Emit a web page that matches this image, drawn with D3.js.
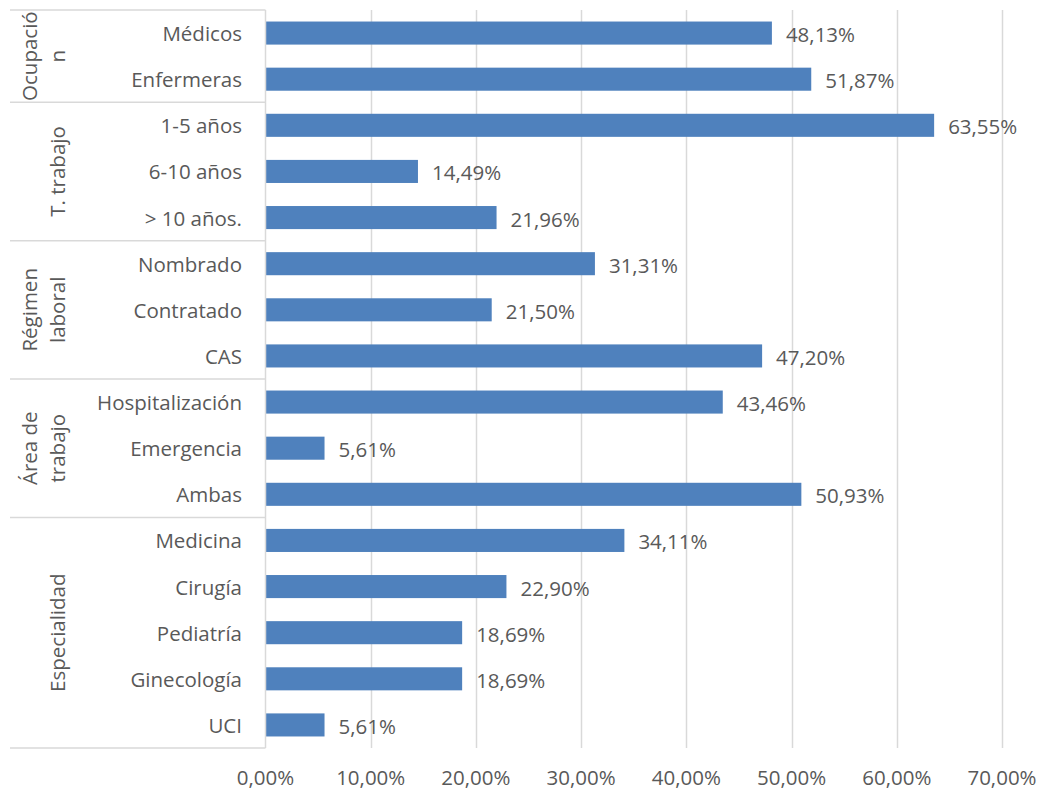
<!DOCTYPE html>
<html>
<head>
<meta charset="utf-8">
<script src="https://cdn.jsdelivr.net/npm/d3@7"></script>
<style>
  html, body { margin: 0; padding: 0; background: #fff; }
  text { font-family: "Open Sans", "Noto Sans", sans-serif; fill: #595959; }
</style>
</head>
<body>
<svg id="chart" width="1043" height="791"></svg>
<script>
// groups of the multi-level category axis (label lines, number of items)
var groupNames = [["Ocupació", "n"], ["T. trabajo"], ["Régimen", "laboral"], ["Área de", "trabajo"], ["Especialidad"]];
var groupSizes = [2, 3, 3, 3, 5];
var categories = ["Médicos", "Enfermeras", "1-5 años", "6-10 años", "> 10 años.", "Nombrado", "Contratado", "CAS",
    "Hospitalización", "Emergencia", "Ambas", "Medicina", "Cirugía", "Pediatría", "Ginecología", "UCI"];
var values = [48.13, 51.87, 63.55, 14.49, 21.96, 31.31, 21.50, 47.20, 43.46, 5.61, 50.93, 34.11, 22.90, 18.69, 18.69, 5.61];
var xTicks = [0, 10, 20, 30, 40, 50, 60, 70];

var svg = d3.select("#chart");
var plot = { left: 265.5, right: 1002, top: 10, bottom: 748 };
var fontSize = 20.5;

var x = d3.scaleLinear().domain([0, 70]).range([plot.left, plot.right]);
var y = d3.scaleBand().domain(d3.range(categories.length)).range([plot.top, plot.bottom]).paddingInner(0.5).paddingOuter(0.25);
var fmt = function(v) { return v.toFixed(2).replace(".", ",") + "%"; };

// vertical gridlines
svg.append("g").selectAll("line")
    .data(xTicks.slice(1))
    .join("line")
    .attr("x1", function(d) { return Math.round(x(d)) + 0.5; })
    .attr("x2", function(d) { return Math.round(x(d)) + 0.5; })
    .attr("y1", plot.top).attr("y2", plot.bottom)
    .attr("stroke", "#d9d9d9").attr("stroke-width", 1.5);

// x tick labels
svg.append("g").selectAll("text")
    .data(xTicks)
    .join("text")
    .attr("x", function(d) { return x(d); })
    .attr("y", 777)
    .attr("text-anchor", "middle")
    .attr("dominant-baseline", "central")
    .style("font-size", fontSize + "px")
    .text(function(d) { return fmt(d); });

// bars
svg.append("g").selectAll("rect")
    .data(values)
    .join("rect")
    .attr("x", x(0))
    .attr("y", function(d, i) { return y(i); })
    .attr("width", function(d) { return x(d) - x(0); })
    .attr("height", y.bandwidth())
    .attr("fill", "#4f81bd");

// value labels
svg.append("g").selectAll("text")
    .data(values)
    .join("text")
    .attr("x", function(d) { return x(d) + 14; })
    .attr("y", function(d, i) { return y(i) + y.bandwidth() / 2 + 1; })
    .attr("dominant-baseline", "central")
    .style("font-size", fontSize + "px")
    .text(function(d) { return fmt(d); });

// category labels
svg.append("g").selectAll("text")
    .data(categories)
    .join("text")
    .attr("x", 242)
    .attr("y", function(d, i) { return y(i) + y.bandwidth() / 2; })
    .attr("text-anchor", "end")
    .attr("dominant-baseline", "central")
    .style("font-size", fontSize + "px")
    .text(function(d) { return d; });

// axis frame: vertical axis line and group separators
var step = y.step();
var bounds = [0];
groupSizes.forEach(function(n, i) { bounds.push(bounds[i] + n); });

var frame = svg.append("g").attr("stroke", "#d9d9d9").attr("stroke-width", 1.5);
frame.append("line")
    .attr("x1", plot.left).attr("x2", plot.left)
    .attr("y1", plot.top).attr("y2", plot.bottom);
frame.selectAll("line.sep")
    .data(bounds)
    .join("line")
    .attr("class", "sep")
    .attr("x1", 10).attr("x2", plot.left)
    .attr("y1", function(b) { return plot.top + b * step; })
    .attr("y2", function(b) { return plot.top + b * step; });

// group labels, rotated
groupNames.forEach(function(lines, g) {
    var cy = plot.top + (bounds[g] + groupSizes[g] / 2) * step;
    var xs = lines.length === 2 ? [29, 57] : [57];
    lines.forEach(function(line, k) {
        svg.append("text")
            .attr("transform", "translate(" + xs[k] + "," + cy + ") rotate(-90)")
            .attr("text-anchor", "middle")
            .attr("dominant-baseline", "central")
            .style("font-size", fontSize + "px")
            .text(line);
    });
});
</script>
</body>
</html>
